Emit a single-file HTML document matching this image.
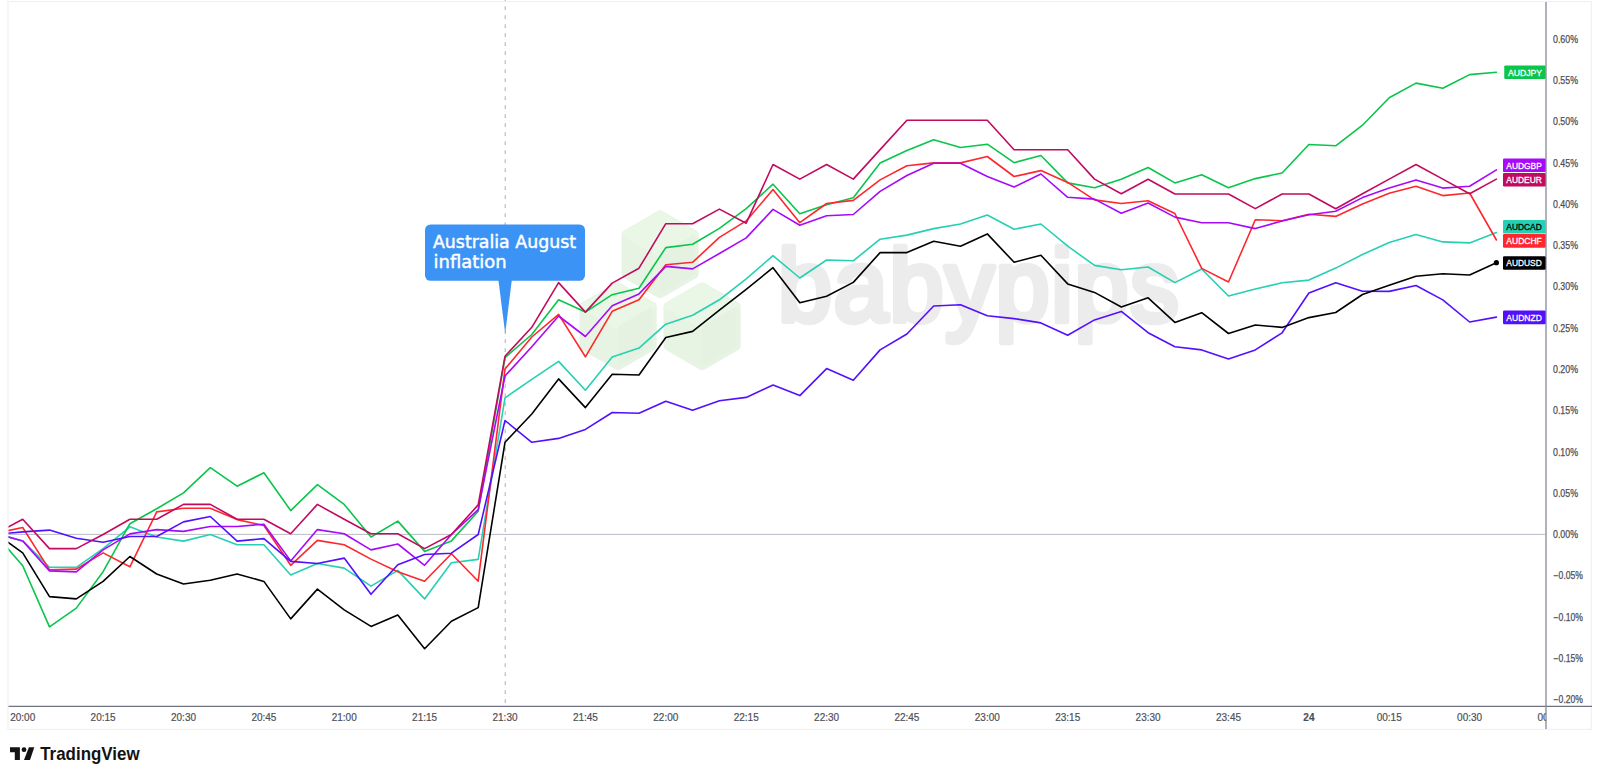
<!DOCTYPE html>
<html lang="en"><head><meta charset="utf-8"><title>AUD pairs chart</title>
<style>
html,body{margin:0;padding:0;background:#fff;}
body{width:1600px;height:779px;overflow:hidden;position:relative;font-family:"Liberation Sans",sans-serif;}
svg{position:absolute;left:0;top:0;display:block}
.ax{font-family:"Liberation Sans",sans-serif;font-size:10px;fill:#4d4f57;stroke:#4d4f57;stroke-width:0.18}
.tag{font-family:"Liberation Sans",sans-serif;font-size:9.8px;font-weight:400;stroke-width:0.3}
.pr{stroke:#4d4f57;stroke-width:0.25}
.ln{fill:none;stroke-width:1.6;stroke-linejoin:round;stroke-linecap:round}
.call{font-family:"DejaVu Sans","Liberation Sans",sans-serif;font-size:17.4px;fill:#fff;stroke:#fff;stroke-width:0.45}
.wm{font-family:"Liberation Sans",sans-serif;font-weight:400;font-size:97px;fill:#ececec;stroke:#ececec;stroke-width:6;stroke-linejoin:round;stroke-linecap:round}
.tv{font-family:"Liberation Sans",sans-serif;font-weight:700;font-size:17.7px;fill:#131313}
</style></head><body>
<svg width="1600" height="779" viewBox="0 0 1600 779">
<defs><clipPath id="plot"><rect x="8.5" y="2" width="1537" height="704.5"/></clipPath>
<clipPath id="taxis"><rect x="8.5" y="707" width="1537.3" height="22"/></clipPath></defs>
<rect x="8" y="1.6" width="1583.4" height="727.8" fill="none" stroke="#f1f1f2" stroke-width="1.2"/>

<g id="watermark">
<polygon points="660.2,214.2 694.8,234.2 694.8,274.2 660.2,294.2 625.6,274.2 625.6,234.2" fill="#e7f4e4" stroke="#e7f4e4" stroke-width="8" stroke-linejoin="round"/>
<polygon points="625.6,234.2 660.2,214.2 694.8,234.2 660.2,254.2" fill="#eaf7e7" stroke="#eaf7e7" stroke-width="6" stroke-linejoin="round"/>
<polygon points="660.2,254.2 694.8,234.2 694.8,274.2 660.2,294.2" fill="#e5f2e2"/>
<polygon points="702.1,286.2 736.7,306.2 736.7,346.2 702.1,366.2 667.5,346.2 667.5,306.2" fill="#e7f4e4" stroke="#e7f4e4" stroke-width="8" stroke-linejoin="round"/>
<polygon points="667.5,306.2 702.1,286.2 736.7,306.2 702.1,326.2" fill="#eaf7e7" stroke="#eaf7e7" stroke-width="6" stroke-linejoin="round"/>
<polygon points="702.1,326.2 736.7,306.2 736.7,346.2 702.1,366.2" fill="#e5f2e2"/>
<polygon points="618.1,286.2 652.7,306.2 652.7,346.2 618.1,366.2 583.5,346.2 583.5,306.2" fill="#e7f4e4" stroke="#e7f4e4" stroke-width="8" stroke-linejoin="round"/>
<polygon points="583.5,306.2 618.1,286.2 652.7,306.2 618.1,326.2" fill="#eaf7e7" stroke="#eaf7e7" stroke-width="6" stroke-linejoin="round"/>
<polygon points="618.1,326.2 652.7,306.2 652.7,346.2 618.1,366.2" fill="#e5f2e2"/>
<text class="wm" transform="translate(778 320.5) scale(1 1.06)" x="0" y="0" letter-spacing="1.8">babypips</text>
</g>
<line x1="8.5" y1="534.4" x2="1545" y2="534.4" stroke="#b9bcc6" stroke-width="1"/>
<line x1="505.2" y1="-2.75" x2="505.2" y2="706" stroke="#adadb0" stroke-width="1" stroke-dasharray="3.8 5.2"/>
<g clip-path="url(#plot)">
<polyline class="ln" stroke="#26d0b2" points="-4.1,533.6 22.7,540.9 49.5,567.3 76.3,567.3 103.1,548.6 129.9,526.8 156.7,537.0 183.5,541.1 210.3,534.5 237.1,544.7 263.9,544.7 290.7,575.0 317.4,563.5 344.2,568.1 371.0,586.1 397.8,570.4 424.6,598.9 451.4,562.7 478.2,559.4 505.0,397.9 531.8,379.4 558.6,361.4 585.4,390.2 612.2,357.0 639.0,348.1 665.8,324.2 692.6,315.2 719.4,299.8 746.2,278.8 773.0,255.7 799.8,278.0 826.6,260.0 853.3,260.8 880.1,239.2 906.9,235.1 933.7,228.6 960.5,224.0 987.3,215.0 1014.1,229.2 1040.9,224.0 1067.7,246.1 1094.5,265.4 1121.3,269.8 1148.1,267.0 1174.9,282.6 1201.7,269.0 1228.5,296.0 1255.3,289.1 1282.1,282.7 1308.9,280.1 1335.7,268.1 1362.5,254.5 1389.2,242.6 1416.0,234.4 1442.8,241.9 1469.6,242.9 1496.4,232.6"/>
<polyline class="ln" stroke="#09c54c" points="-4.1,534.8 22.7,565.8 49.5,626.9 76.3,608.1 103.1,571.7 129.9,523.7 156.7,508.8 183.5,492.9 210.3,467.7 237.1,486.2 263.9,472.8 290.7,510.6 317.4,484.6 344.2,504.4 371.0,537.0 397.8,521.1 424.6,551.4 451.4,540.9 478.2,511.3 505.0,357.6 531.8,334.5 558.6,299.8 585.4,312.1 612.2,294.7 639.0,288.2 665.8,247.6 692.6,244.3 719.4,228.4 746.2,208.6 773.0,184.2 799.8,213.7 826.6,204.8 853.3,197.8 880.1,162.9 906.9,150.6 933.7,139.8 960.5,147.5 987.3,144.2 1014.1,162.7 1040.9,155.5 1067.7,182.9 1094.5,187.8 1121.3,179.3 1148.1,167.5 1174.9,182.9 1201.7,174.7 1228.5,187.8 1255.3,178.6 1282.1,173.0 1308.9,144.5 1335.7,145.8 1362.5,125.2 1389.2,97.8 1416.0,83.1 1442.8,88.3 1469.6,74.6 1496.4,72.3"/>
<polyline class="ln" stroke="#ff272e" points="-4.1,533.3 22.7,527.5 49.5,569.9 76.3,569.1 103.1,552.9 129.9,566.8 156.7,511.9 183.5,508.3 210.3,508.3 237.1,519.6 263.9,525.5 290.7,565.3 317.4,540.4 344.2,544.7 371.0,559.1 397.8,571.7 424.6,581.2 451.4,553.7 478.2,581.2 505.0,369.1 531.8,337.0 558.6,314.4 585.4,356.8 612.2,311.3 639.0,299.8 665.8,264.8 692.6,262.3 719.4,237.4 746.2,220.9 773.0,189.6 799.8,222.7 826.6,203.5 853.3,200.4 880.1,179.9 906.9,165.7 933.7,162.9 960.5,162.9 987.3,156.5 1014.1,176.5 1040.9,170.6 1067.7,182.4 1094.5,199.9 1121.3,203.5 1148.1,200.7 1174.9,213.5 1201.7,268.4 1228.5,282.0 1255.3,219.7 1282.1,220.7 1308.9,214.3 1335.7,216.4 1362.5,204.0 1389.2,193.3 1416.0,186.3 1442.8,195.6 1469.6,193.0 1496.4,240.0"/>
<polyline class="ln" stroke="#a70af9" points="-4.1,533.6 22.7,540.9 49.5,570.9 76.3,571.9 103.1,549.9 129.9,533.9 156.7,529.6 183.5,531.4 210.3,526.5 237.1,526.5 263.9,524.2 290.7,560.9 317.4,529.6 344.2,533.7 371.0,549.9 397.8,544.0 424.6,565.3 451.4,534.5 478.2,509.6 505.0,376.0 531.8,346.8 558.6,316.0 585.4,336.5 612.2,305.7 639.0,293.9 665.8,266.4 692.6,268.9 719.4,253.5 746.2,237.9 773.0,209.4 799.8,225.3 826.6,215.8 853.3,214.5 880.1,191.4 906.9,175.5 933.7,163.2 960.5,163.2 987.3,176.5 1014.1,187.0 1040.9,174.0 1067.7,197.3 1094.5,199.1 1121.3,213.2 1148.1,203.0 1174.9,217.1 1201.7,222.7 1228.5,222.7 1255.3,228.6 1282.1,221.0 1308.9,214.8 1335.7,211.2 1362.5,197.6 1389.2,188.1 1416.0,179.9 1442.8,188.1 1469.6,186.3 1496.4,169.9"/>
<polyline class="ln" stroke="#5210fe" points="-4.1,534.3 22.7,531.9 49.5,530.1 76.3,538.3 103.1,542.2 129.9,536.5 156.7,536.5 183.5,521.9 210.3,516.5 237.1,541.1 263.9,538.6 290.7,561.4 317.4,563.5 344.2,558.1 371.0,594.3 397.8,564.7 424.6,554.5 451.4,553.2 478.2,534.5 505.0,420.5 531.8,442.3 558.6,438.4 585.4,429.4 612.2,412.5 639.0,413.3 665.8,401.2 692.6,410.2 719.4,400.7 746.2,397.4 773.0,385.1 799.8,395.6 826.6,368.6 853.3,380.2 880.1,349.9 906.9,334.0 933.7,306.0 960.5,304.7 987.3,315.8 1014.1,318.6 1040.9,322.9 1067.7,335.3 1094.5,319.9 1121.3,311.4 1148.1,332.7 1174.9,346.8 1201.7,349.9 1228.5,358.9 1255.3,349.9 1282.1,332.8 1308.9,293.0 1335.7,282.7 1362.5,291.2 1389.2,291.4 1416.0,285.5 1442.8,299.9 1469.6,322.0 1496.4,317.1"/>
<polyline class="ln" stroke="#c20b5e" points="-4.1,533.4 22.7,519.3 49.5,548.6 76.3,548.6 103.1,534.5 129.9,519.3 156.7,519.3 183.5,504.4 210.3,504.4 237.1,519.3 263.9,519.3 290.7,533.7 317.4,504.4 344.2,519.3 371.0,533.7 397.8,533.7 424.6,548.6 451.4,534.5 478.2,504.9 505.0,356.3 531.8,327.3 558.6,282.6 585.4,312.1 612.2,283.1 639.0,268.2 665.8,223.7 692.6,223.7 719.4,209.1 746.2,223.2 773.0,164.5 799.8,179.1 826.6,164.5 853.3,179.1 880.1,149.6 906.9,120.3 933.7,120.3 960.5,120.3 987.3,120.3 1014.1,149.8 1040.9,149.8 1067.7,149.8 1094.5,179.1 1121.3,193.7 1148.1,179.3 1174.9,194.0 1201.7,194.0 1228.5,194.0 1255.3,208.6 1282.1,194.0 1308.9,194.0 1335.7,208.7 1362.5,193.8 1389.2,179.1 1416.0,164.5 1442.8,179.1 1469.6,193.8 1496.4,179.1"/>
<polyline class="ln" stroke="#000000" points="-4.1,533.6 22.7,552.9 49.5,596.6 76.3,598.9 103.1,581.4 129.9,556.5 156.7,574.0 183.5,584.0 210.3,580.2 237.1,574.0 263.9,581.4 290.7,618.9 317.4,589.1 344.2,609.9 371.0,626.4 397.8,615.1 424.6,648.7 451.4,621.2 478.2,607.6 505.0,442.3 531.8,414.0 558.6,378.9 585.4,407.6 612.2,374.2 639.0,375.0 665.8,337.5 692.6,331.4 719.4,310.1 746.2,289.3 773.0,267.7 799.8,302.7 826.6,296.2 853.3,282.4 880.1,252.6 906.9,252.6 933.7,241.3 960.5,246.2 987.3,233.9 1014.1,262.3 1040.9,255.2 1067.7,283.9 1094.5,292.4 1121.3,307.0 1148.1,297.8 1174.9,322.4 1201.7,312.7 1228.5,333.5 1255.3,325.0 1282.1,327.4 1308.9,317.6 1335.7,312.5 1362.5,294.5 1389.2,285.3 1416.0,276.3 1442.8,273.7 1469.6,275.0 1496.4,262.7"/>
</g>
<circle cx="1496.4" cy="262.7" r="2.6" fill="#000"/>
<g id="callout"><rect x="425" y="224.4" width="160" height="56.4" rx="5.5" fill="#3b93f5"/><polygon points="498.4,280 511.8,280 505.2,333.5" fill="#3b93f5"/><text class="call" x="433" y="248.2" textLength="143" lengthAdjust="spacingAndGlyphs">Australia August</text><text class="call" x="433.6" y="267.6" textLength="73" lengthAdjust="spacingAndGlyphs">inflation</text></g>
<line x1="8.5" y1="706.4" x2="1592" y2="706.4" stroke="#6f7280" stroke-width="1.2"/>
<line x1="1546" y1="2" x2="1546" y2="729" stroke="#868896" stroke-width="1.3"/>
<rect x="1504.25" y="65.4" width="41.35" height="13.6" rx="1.2" fill="#09c54c"/><text class="tag" x="1508.0" y="75.5" fill="#fff" stroke="#fff" textLength="34.0" lengthAdjust="spacingAndGlyphs">AUDJPY</text>
<rect x="1503.0" y="158.5" width="42.60" height="13.6" rx="1.2" fill="#a70af9"/><text class="tag" x="1506.3" y="168.6" fill="#fff" stroke="#fff" textLength="35.5" lengthAdjust="spacingAndGlyphs">AUDGBP</text>
<rect x="1503.0" y="172.9" width="42.60" height="13.6" rx="1.2" fill="#c20b5e"/><text class="tag" x="1506.3" y="183.0" fill="#fff" stroke="#fff" textLength="35.5" lengthAdjust="spacingAndGlyphs">AUDEUR</text>
<rect x="1503.0" y="219.9" width="42.60" height="13.6" rx="1.2" fill="#26d0b2"/><text class="tag" x="1506.3" y="230.0" fill="#000" stroke="#000" textLength="35.5" lengthAdjust="spacingAndGlyphs">AUDCAD</text>
<rect x="1503.0" y="234.1" width="42.60" height="13.6" rx="1.2" fill="#ff272e"/><text class="tag" x="1506.3" y="244.2" fill="#fff" stroke="#fff" textLength="35.5" lengthAdjust="spacingAndGlyphs">AUDCHF</text>
<rect x="1503.0" y="256.2" width="42.60" height="13.6" rx="1.2" fill="#000000"/><text class="tag" x="1506.3" y="266.3" fill="#fff" stroke="#fff" textLength="35.5" lengthAdjust="spacingAndGlyphs">AUDUSD</text>
<rect x="1503.0" y="310.6" width="42.60" height="13.6" rx="1.2" fill="#5210fe"/><text class="tag" x="1506.3" y="320.7" fill="#fff" stroke="#fff" textLength="35.5" lengthAdjust="spacingAndGlyphs">AUDNZD</text>
<text class="ax pr" x="1553" y="42.7" textLength="25" lengthAdjust="spacingAndGlyphs">0.60%</text>
<text class="ax pr" x="1553" y="84.0" textLength="25" lengthAdjust="spacingAndGlyphs">0.55%</text>
<text class="ax pr" x="1553" y="125.3" textLength="25" lengthAdjust="spacingAndGlyphs">0.50%</text>
<text class="ax pr" x="1553" y="166.6" textLength="25" lengthAdjust="spacingAndGlyphs">0.45%</text>
<text class="ax pr" x="1553" y="207.9" textLength="25" lengthAdjust="spacingAndGlyphs">0.40%</text>
<text class="ax pr" x="1553" y="249.1" textLength="25" lengthAdjust="spacingAndGlyphs">0.35%</text>
<text class="ax pr" x="1553" y="290.4" textLength="25" lengthAdjust="spacingAndGlyphs">0.30%</text>
<text class="ax pr" x="1553" y="331.7" textLength="25" lengthAdjust="spacingAndGlyphs">0.25%</text>
<text class="ax pr" x="1553" y="373.0" textLength="25" lengthAdjust="spacingAndGlyphs">0.20%</text>
<text class="ax pr" x="1553" y="414.3" textLength="25" lengthAdjust="spacingAndGlyphs">0.15%</text>
<text class="ax pr" x="1553" y="455.5" textLength="25" lengthAdjust="spacingAndGlyphs">0.10%</text>
<text class="ax pr" x="1553" y="496.8" textLength="25" lengthAdjust="spacingAndGlyphs">0.05%</text>
<text class="ax pr" x="1553" y="538.1" textLength="25" lengthAdjust="spacingAndGlyphs">0.00%</text>
<text class="ax pr" x="1553.6" y="579.4" textLength="29.4" lengthAdjust="spacingAndGlyphs">−0.05%</text>
<text class="ax pr" x="1553.6" y="620.7" textLength="29.4" lengthAdjust="spacingAndGlyphs">−0.10%</text>
<text class="ax pr" x="1553.6" y="661.9" textLength="29.4" lengthAdjust="spacingAndGlyphs">−0.15%</text>
<text class="ax pr" x="1553.6" y="703.2" textLength="29.4" lengthAdjust="spacingAndGlyphs">−0.20%</text>
<g clip-path="url(#taxis)">
<text class="ax" x="22.7" y="721.3" text-anchor="middle">20:00</text>
<text class="ax" x="103.1" y="721.3" text-anchor="middle">20:15</text>
<text class="ax" x="183.5" y="721.3" text-anchor="middle">20:30</text>
<text class="ax" x="263.9" y="721.3" text-anchor="middle">20:45</text>
<text class="ax" x="344.2" y="721.3" text-anchor="middle">21:00</text>
<text class="ax" x="424.6" y="721.3" text-anchor="middle">21:15</text>
<text class="ax" x="505.0" y="721.3" text-anchor="middle">21:30</text>
<text class="ax" x="585.4" y="721.3" text-anchor="middle">21:45</text>
<text class="ax" x="665.8" y="721.3" text-anchor="middle">22:00</text>
<text class="ax" x="746.2" y="721.3" text-anchor="middle">22:15</text>
<text class="ax" x="826.6" y="721.3" text-anchor="middle">22:30</text>
<text class="ax" x="906.9" y="721.3" text-anchor="middle">22:45</text>
<text class="ax" x="987.3" y="721.3" text-anchor="middle">23:00</text>
<text class="ax" x="1067.7" y="721.3" text-anchor="middle">23:15</text>
<text class="ax" x="1148.1" y="721.3" text-anchor="middle">23:30</text>
<text class="ax" x="1228.5" y="721.3" text-anchor="middle">23:45</text>
<text class="ax" x="1308.9" y="721.3" text-anchor="middle" font-weight="700">24</text>
<text class="ax" x="1389.2" y="721.3" text-anchor="middle">00:15</text>
<text class="ax" x="1469.6" y="721.3" text-anchor="middle">00:30</text>
<text class="ax" x="1550.0" y="721.3" text-anchor="middle">00:45</text>
</g>
<g id="tvlogo" fill="#131313"><path d="M10 747.3H19.9V759.9H14.8V752.3H10Z"/><circle cx="24" cy="749.7" r="2.4"/><path d="M28.9 747.3H34.3L30 759.9H24Z"/><text class="tv" x="40.2" y="759.9" stroke="none" textLength="99.4" lengthAdjust="spacingAndGlyphs">TradingView</text></g>
</svg></body></html>
